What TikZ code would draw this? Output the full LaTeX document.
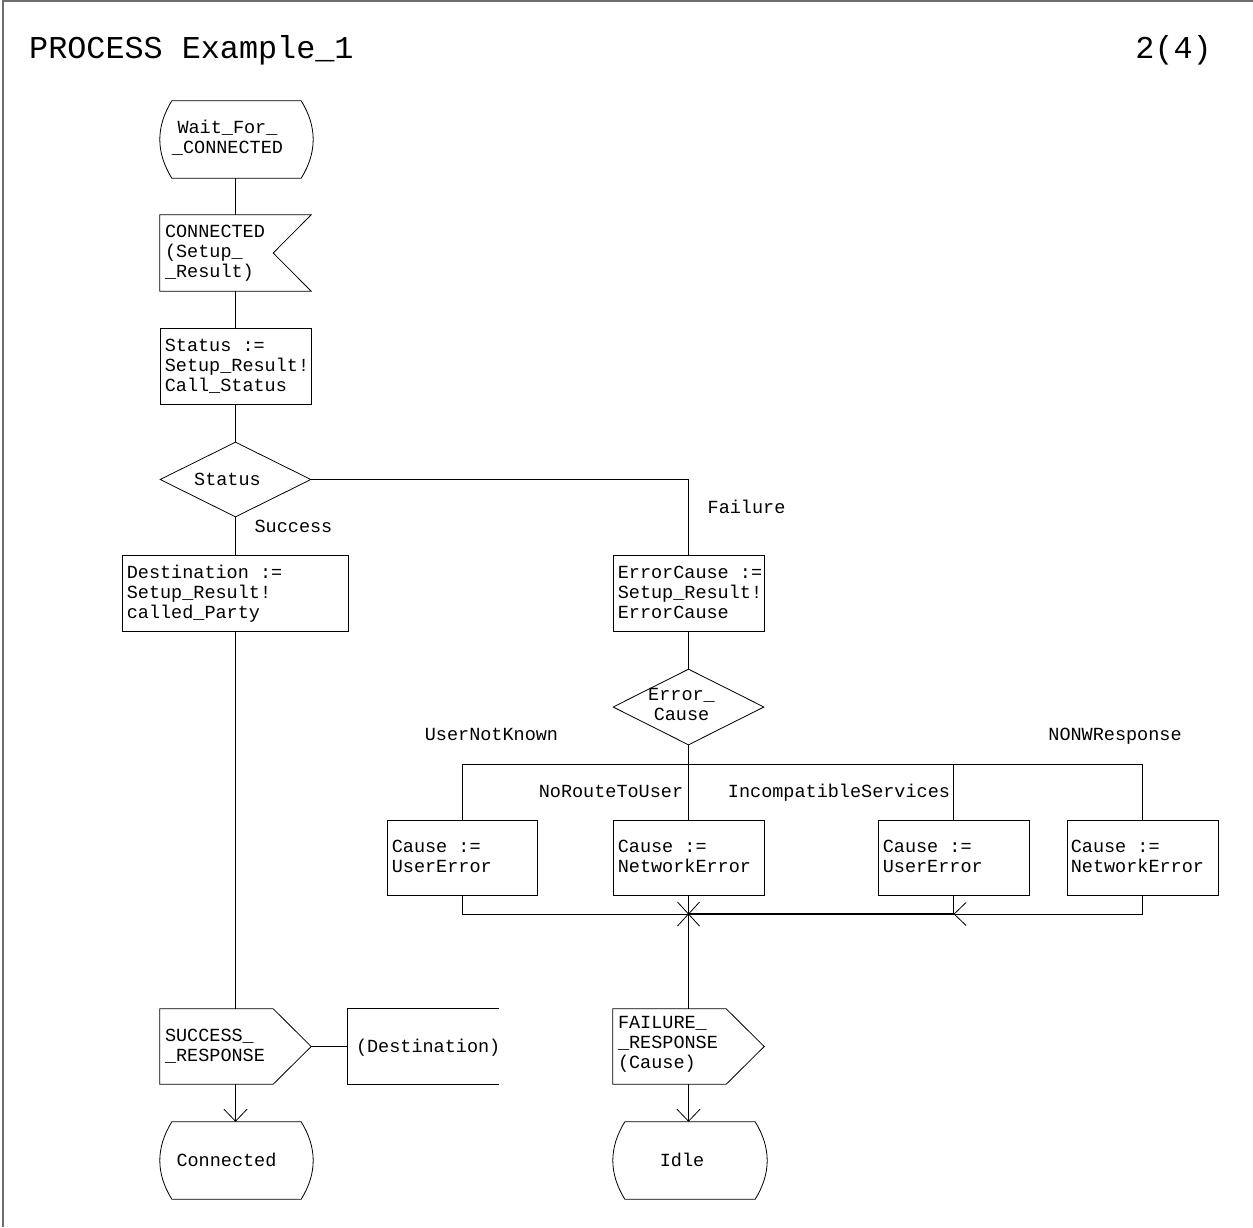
\documentclass[tikz,border=0pt]{standalone}
\usepackage{fontspec}
\newfontfamily\sdlfont{Liberation Mono}
\usetikzlibrary{shapes.geometric,arrows.meta}
\definecolor{framegray}{RGB}{110,110,110}
\newcommand{\sst}{\rule[-4pt]{0pt}{20pt}}
\newcommand{\drawstate}[1]{\draw[ln] ([shift={(12,0)}]#1.north west) -- ([shift={(-12,0)}]#1.north east) .. controls ([shift={(4,26)}]#1.north east) and ([shift={(4,-26)}]#1.south east) .. ([shift={(-12,0)}]#1.south east) -- ([shift={(12,0)}]#1.south west) .. controls ([shift={(-4,-26)}]#1.south west) and ([shift={(-4,26)}]#1.north west) .. cycle;}
\newcommand{\drawoutput}[1]{\draw[ln] (#1.north west) -- ([shift={(-38,0)}]#1.north east) -- (#1.east) -- ([shift={(-38,0)}]#1.south east) -- (#1.south west) -- cycle;}
\begin{document}
\begin{tikzpicture}[x=1pt,y=-1pt,
  ln/.style={line width=0.8pt, draw=black},
  thk/.style={line width=1.6pt, draw=black},
  box/.style={rectangle, draw=black, line width=0.8pt, inner sep=0pt},
  blank/.style={rectangle, inner sep=0pt},
  dia/.style={diamond, draw=black, line width=0.8pt, inner sep=0pt, minimum width=151pt, minimum height=76pt},
  txt/.style={font=\sdlfont\fontsize{18.5}{20}\selectfont, inner sep=0pt, align=left},
  ctxt/.style={txt, align=center},
  tip/.style={-{Straight Barb[length=12pt,width=23pt]}},
]
\useasboundingbox (0,0) rectangle (1253,1227);
\draw[line width=2pt, framegray] (3,1227) -- (3,1) -- (1253,1);

% header
\node[font=\sdlfont\fontsize{31.8}{34}\selectfont, inner sep=0pt, anchor=base west] (title) at (29,58.5) {PROCESS Example\_1};
\node[font=\sdlfont\fontsize{31.8}{34}\selectfont, inner sep=0pt, anchor=base east] (page) at (1212,58.5) {2(4)};

% start state
\node[blank, minimum width=153pt, minimum height=77pt] (wait) at (236.5,139.5) {};
\drawstate{wait}
\node[ctxt] (waitt) at ([shift={(-9,-2)}]wait.center) {\sst Wait\_For\_\\\sst\_CONNECTED};

% input
\node[blank, minimum width=151pt, minimum height=76pt] (conn) at (235.5,253) {};
\draw[ln] (conn.north west) -- (conn.north east) -- ([shift={(-38,0)}]conn.east) -- (conn.south east) -- (conn.south west) -- cycle;
\node[txt, anchor=west] (connt) at ([shift={(5,-2)}]conn.west) {\sst CONNECTED\\\sst(Setup\_\\\sst\_Result)};

% task status
\node[box, minimum width=151pt, minimum height=76pt] (st) at (235.5,366) {};
\node[txt, anchor=west] (stt) at ([shift={(5,-1)}]st.west) {\sst Status :=\\\sst Setup\_Result!\\\sst Call\_Status};

% decision status
\node[dia, minimum height=75pt] (dst) at (235.5,479.5) {};
\node[ctxt] (dstt) at ([shift={(-8,0)}]dst.center) {\sst Status};
\node[txt] (lsucc) at (293.5,526) {\sst Success};
\node[txt] (lfail) at (746.5,507) {\sst Failure};

% destination task
\node[box, minimum width=226pt, minimum height=76pt] (dest) at (235,593) {};
\node[txt, anchor=west] (destt) at ([shift={(5,-1)}]dest.west) {\sst Destination :=\\\sst Setup\_Result!\\\sst called\_Party};

% error task
\node[box, minimum width=151pt, minimum height=76pt] (err) at (688.5,593) {};
\node[txt, anchor=west] (errt) at ([shift={(5,-1)}]err.west) {\sst ErrorCause :=\\\sst Setup\_Result!\\\sst ErrorCause};

% error decision
\node[dia] (edc) at (688.5,707) {};
\node[ctxt] (edct) at ([shift={(-7,-2.5)}]edc.center) {\sst Error\_\\\sst Cause};

\coordinate (bus) at (688.5,764);
\coordinate (merge) at (688.5,914);

% labels
\node[txt] (l1) at (491.5,734) {\sst UserNotKnown};
\node[txt] (l2) at (611,791) {\sst NoRouteToUser};
\node[txt] (l3) at (839,791) {\sst IncompatibleServices};
\node[txt] (l4) at (1115,734) {\sst NONWResponse};

% cause tasks
\node[box, minimum width=150pt, minimum height=75pt] (c1) at (462,857.5) {};
\node[txt, anchor=west] (c1t) at ([shift={(5,-1)}]c1.west) {\sst Cause :=\\\sst UserError};
\node[box, minimum width=151pt, minimum height=75pt] (c2) at (688.5,857.5) {};
\node[txt, anchor=west] (c2t) at ([shift={(5,-1)}]c2.west) {\sst Cause :=\\\sst NetworkError};
\node[box, minimum width=151pt, minimum height=75pt] (c3) at (953.5,857.5) {};
\node[txt, anchor=west] (c3t) at ([shift={(5,-1)}]c3.west) {\sst Cause :=\\\sst UserError};
\node[box, minimum width=151pt, minimum height=75pt] (c4) at (1142.5,857.5) {};
\node[txt, anchor=west] (c4t) at ([shift={(4,-1)}]c4.west) {\sst Cause :=\\\sst NetworkError};

% outputs
\node[blank, minimum width=151pt, minimum height=75pt] (so) at (235.5,1046.5) {};
\drawoutput{so}
\node[txt, anchor=west] (sot) at ([shift={(5,-1)}]so.west) {\sst SUCCESS\_\\\sst\_RESPONSE};

\node[blank, minimum width=151pt, minimum height=75pt] (cm) at (423.5,1046.5) {};
\draw[ln] (cm.north east) -- (cm.north west) -- (cm.south west) -- (cm.south east);
\node[txt, anchor=west] (cmt) at ([shift={(8,0)}]cm.west) {\sst(Destination)};

\node[blank, minimum width=151pt, minimum height=75pt] (fail) at (688.5,1046.5) {};
\drawoutput{fail}
\node[txt, anchor=west] (failt) at ([shift={(5,-4.5)}]fail.west) {\sst FAILURE\_\\\sst\_RESPONSE\\\sst(Cause)};

% end states
\node[blank, minimum width=153pt, minimum height=77pt] (cst) at (236.5,1160.5) {};
\drawstate{cst}
\node[ctxt] (cstt) at ([shift={(-10,0)}]cst.center) {\sst Connected};
\node[blank, minimum width=154pt, minimum height=77pt] (idle) at (690,1160.5) {};
\drawstate{idle}
\node[ctxt] (idlet) at ([shift={(-8,0)}]idle.center) {\sst Idle};

% connectors
\draw[ln] (conn.north |- wait.south) -- (conn.north);
\draw[ln] (conn.south) -- (st.north);
\draw[ln] (st.south) -- (dst.north);
\draw[ln] (dst.east) -| (err.north);
\draw[ln] (dst.south) -- (dst.south |- dest.north);
\draw[ln] (so.north |- dest.south) -- (so.north);
\draw[ln] (so.east) -- (cm.west);
\draw[ln, tip] (so.south) -- (so.south |- cst.north);
\draw[ln] (err.south) -- (edc.north);
\draw[thk] (edc.south) -- (bus);
\draw[ln] (c1.north) -- (c1.north |- bus) -- (c4.north |- bus) -- (c4.north);
\draw[ln] (bus) -- (c2.north);
\draw[ln] (c3.north |- bus) -- (c3.north);
\draw[ln] (c1.south) |- (merge);
\draw[ln] (c2.south) -- (merge);
\draw[ln] (c3.south) -- (c3.south |- merge);
\draw[thk] (merge) -- (c3.south |- merge);
\draw[ln, tip] (c4.south) |- (c3.south |- merge);
\draw[ln] ([shift={(-11,-12)}]merge) -- ([shift={(11,12)}]merge);
\draw[ln] ([shift={(11,-12)}]merge) -- ([shift={(-11,12)}]merge);
\draw[thk] (merge) -- (fail.north);
\draw[ln, tip] (fail.south) -- (fail.south |- idle.north);
\end{tikzpicture}
\end{document}
